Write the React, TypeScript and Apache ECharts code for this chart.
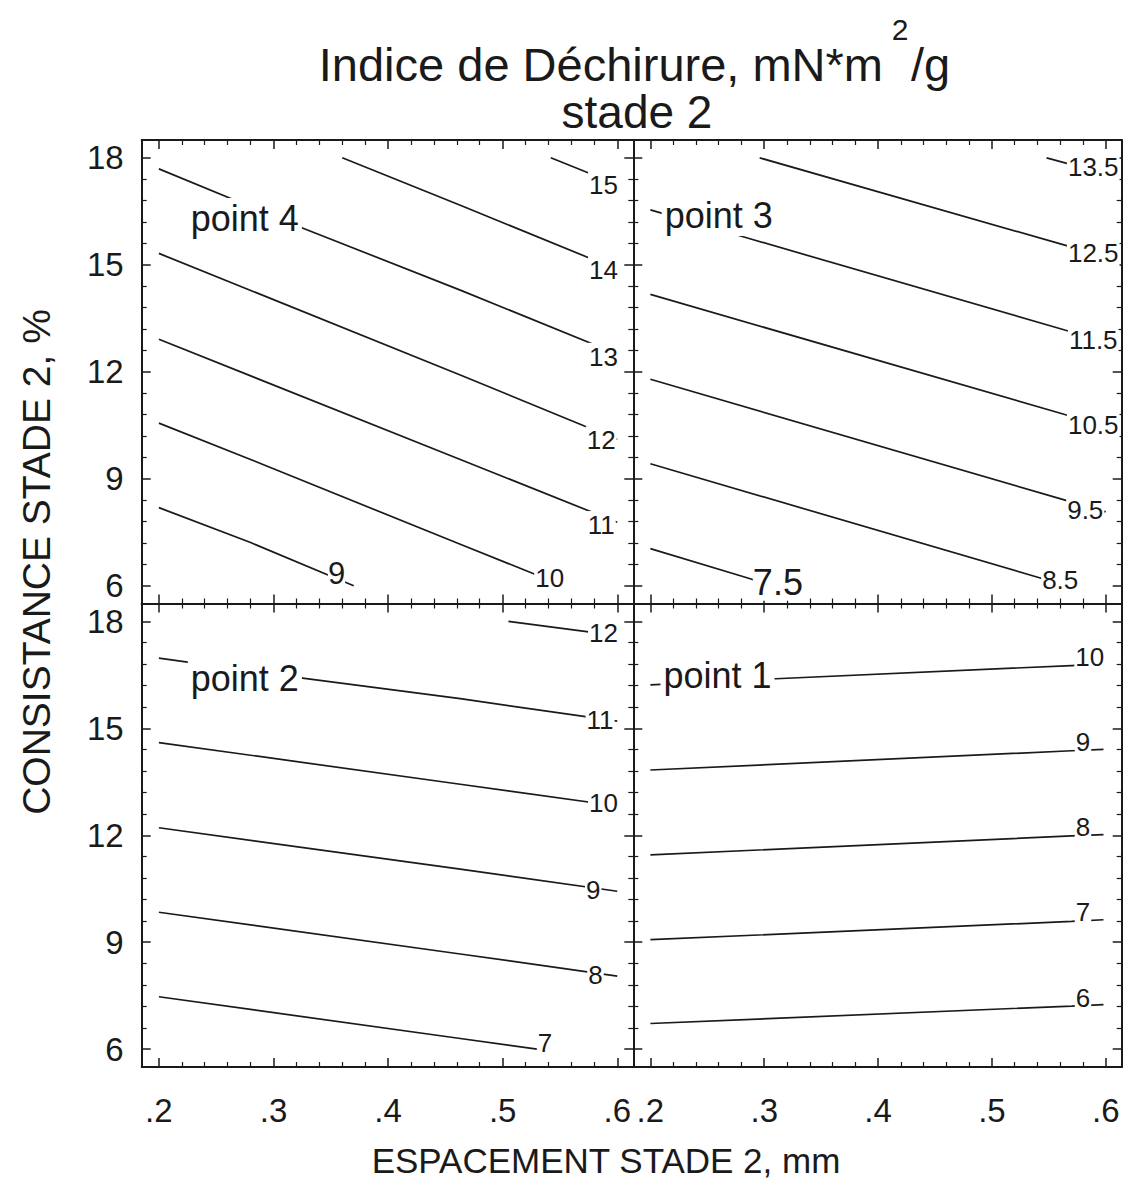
import React, { useEffect, useRef } from 'react';
import * as echarts from 'echarts';

const FONT = '"Liberation Sans", Arial, Helvetica, sans-serif';
const INK = '#1a1a1a';

// ---- axes ----
const X_RANGE = [0.185, 0.614];
const Y_RANGE = [5.5, 18.5];
const xTickValues = [0.2, 0.3, 0.4, 0.5, 0.6];
const xTickLabels = ['.2', '.3', '.4', '.5', '.6'];
const yTickValues = [6, 9, 12, 15, 18];
const yTickLabels = ['6', '9', '12', '15', '18'];
const xMinorTicks = [0.22, 0.24, 0.26, 0.28, 0.32, 0.34, 0.36, 0.38, 0.42, 0.44, 0.46, 0.48, 0.52, 0.54, 0.56, 0.58];
const yMinorTicks = [6.6, 7.2, 7.8, 8.4, 9.6, 10.2, 10.8, 11.4, 12.6, 13.2, 13.8, 14.4, 15.6, 16.2, 16.8, 17.4];

// ---- texts ----
const titleMain = 'Indice de Déchirure, mN*m';
const titleSup = '2';
const titleTail = '/g';
const titleLine2 = 'stade 2';
const xTitle = 'ESPACEMENT STADE 2, mm';
const yTitle = 'CONSISTANCE STADE 2, %';

// ---- point 4 (top-left) ----
const p4Levels = ['9', '10', '11', '12', '13', '14', '15'];
const p4Lines = [
  [[0.2, 8.19], [0.28, 7.21], [0.37, 6.0]],
  [[0.2, 10.56], [0.28, 9.54], [0.463, 7.16], [0.553, 6.0]],
  [[0.2, 12.91], [0.463, 9.54], [0.6, 7.78]],
  [[0.2, 15.32], [0.463, 11.91], [0.6, 10.1]],
  [[0.2, 17.69], [0.323, 16.06], [0.463, 14.29], [0.6, 12.5]],
  [[0.36, 18.0], [0.463, 16.67], [0.6, 14.87]],
  [[0.542, 18.0], [0.6, 17.25]],
];
const p4LabelPos = [[0.355, 6.35], [0.541, 6.21], [0.586, 7.7], [0.586, 10.08], [0.588, 12.42], [0.588, 14.85], [0.588, 17.24]];

// ---- point 3 (top-right) ----
const p3Levels = ['7.5', '8.5', '9.5', '10.5', '11.5', '12.5', '13.5'];
const p3Lines = [
  [[0.2, 7.04], [0.287, 6.2], [0.306, 6.0]],
  [[0.2, 9.42], [0.541, 6.23], [0.565, 6.0]],
  [[0.2, 11.79], [0.562, 8.42], [0.6, 8.07]],
  [[0.2, 14.17], [0.564, 10.8], [0.6, 10.47]],
  [[0.2, 16.54], [0.28, 15.8], [0.564, 13.17], [0.6, 12.84]],
  [[0.296, 18.0], [0.564, 15.55], [0.6, 15.22]],
  [[0.548, 18.0], [0.6, 17.55]],
];
const p3LabelPos = [[0.312, 6.08], [0.56, 6.16], [0.582, 8.12], [0.589, 10.51], [0.589, 12.89], [0.589, 15.32], [0.589, 17.75]];

// ---- point 2 (bottom-left) ----
const p2Levels = ['7', '8', '9', '10', '11', '12'];
const p2Lines = [
  [[0.2, 7.47], [0.463, 6.3], [0.53, 6.0]],
  [[0.2, 9.84], [0.463, 8.67], [0.6, 8.05]],
  [[0.2, 12.21], [0.463, 11.05], [0.6, 10.43]],
  [[0.2, 14.6], [0.463, 13.43], [0.6, 12.82]],
  [[0.2, 16.97], [0.322, 16.42], [0.463, 15.83], [0.6, 15.2]],
  [[0.505, 18.0], [0.6, 17.6]],
];
const p2LabelPos = [[0.537, 6.16], [0.581, 8.08], [0.579, 10.46], [0.588, 12.9], [0.585, 15.23], [0.588, 17.66]];

// ---- point 1 (bottom-right) ----
const p1Levels = ['6', '7', '8', '9', '10'];
const p1Lines = [
  [[0.2, 6.72], [0.57, 7.21], [0.598, 7.25]],
  [[0.2, 9.07], [0.57, 9.585], [0.598, 9.63]],
  [[0.2, 11.45], [0.57, 11.98], [0.598, 12.02]],
  [[0.2, 13.83], [0.57, 14.37], [0.598, 14.41]],
  [[0.2, 16.22], [0.31, 16.39], [0.57, 16.76], [0.598, 16.8]],
];
const p1LabelPos = [[0.58, 7.43], [0.58, 9.86], [0.58, 12.22], [0.58, 14.62], [0.586, 17.01]];

const pointNames = ['point 4', 'point 3', 'point 2', 'point 1'];
const pointLabelPos = [[0.275, 16.31], [0.26, 16.37], [0.275, 16.41], [0.259, 16.47]];

const panels = [
  { levels: p4Levels, lines: p4Lines, labelPos: p4LabelPos },
  { levels: p3Levels, lines: p3Lines, labelPos: p3LabelPos },
  { levels: p2Levels, lines: p2Lines, labelPos: p2LabelPos },
  { levels: p1Levels, lines: p1Lines, labelPos: p1LabelPos },
];

// ---- layout / style ----
const GRID_RECTS = [
  { left: 141.7, top: 140, width: 491.6, height: 463.5 },
  { left: 633.3, top: 140, width: 488.4, height: 463.5 },
  { left: 141.7, top: 603.5, width: 491.6, height: 463.5 },
  { left: 633.3, top: 603.5, width: 488.4, height: 463.5 },
];
// larger contour labels, keyed "panelIndex:level"
const LABEL_SIZE_OVERRIDES: Record<string, number> = { '0:9': 31, '1:7.5': 36 };

function lookup(values: number[], labels: string[]) {
  return (v: number) => {
    const i = values.findIndex((t) => Math.abs(t - v) < 1e-6);
    return i >= 0 ? labels[i] : '';
  };
}

function buildOption() {
  const xAxis: any[] = [];
  const yAxis: any[] = [];
  const series: any[] = [];
  const xFmt = lookup(xTickValues, xTickLabels);
  const yFmt = lookup(yTickValues, yTickLabels);

  GRID_RECTS.forEach((_r, g) => {
    const bottomRow = g >= 2;
    const leftCol = g % 2 === 0;
    const xBase = { type: 'value', gridIndex: g, min: X_RANGE[0], max: X_RANGE[1], splitLine: { show: false }, silent: true };
    const yBase = { type: 'value', gridIndex: g, min: Y_RANGE[0], max: Y_RANGE[1], splitLine: { show: false }, silent: true };
    const majorX = (pos: string, labels: boolean) => ({
      ...xBase,
      position: pos,
      axisLine: { show: true, onZero: false, lineStyle: { color: INK, width: 2 } },
      axisTick: { show: true, inside: true, length: 9, customValues: xTickValues, lineStyle: { color: INK, width: 1.5 } },
      axisLabel: { show: labels, customValues: xTickValues, formatter: xFmt, margin: 27, fontSize: 33, fontFamily: FONT, color: INK },
    });
    const minorX = (pos: string) => ({
      ...xBase,
      position: pos,
      axisLine: { show: false, onZero: false },
      axisTick: { show: true, inside: true, length: 5, customValues: xMinorTicks, lineStyle: { color: INK, width: 1.2 } },
      axisLabel: { show: false },
    });
    const majorY = (pos: string, labels: boolean) => ({
      ...yBase,
      position: pos,
      axisLine: { show: true, onZero: false, lineStyle: { color: INK, width: 2 } },
      axisTick: { show: true, inside: true, length: 9, customValues: yTickValues, lineStyle: { color: INK, width: 1.5 } },
      axisLabel: { show: labels, customValues: yTickValues, formatter: yFmt, margin: 18, fontSize: 33, fontFamily: FONT, color: INK },
    });
    const minorY = (pos: string) => ({
      ...yBase,
      position: pos,
      axisLine: { show: false, onZero: false },
      axisTick: { show: true, inside: true, length: 5, customValues: yMinorTicks, lineStyle: { color: INK, width: 1.2 } },
      axisLabel: { show: false },
    });
    xAxis.push(majorX('bottom', bottomRow), minorX('bottom'), majorX('top', false), minorX('top'));
    yAxis.push(majorY('left', leftCol), minorY('left'), majorY('right', false), minorY('right'));

    const ax = g * 4;
    const panel = panels[g];
    panel.lines.forEach((pts) => {
      series.push({
        type: 'line',
        xAxisIndex: ax,
        yAxisIndex: ax,
        data: pts,
        showSymbol: false,
        symbol: 'none',
        clip: true,
        silent: true,
        z: 2,
        lineStyle: { color: INK, width: 1.7 },
      });
    });
    const labelBase = {
      show: true,
      position: 'inside',
      formatter: '{b}',
      fontFamily: FONT,
      color: INK,
      opacity: 1,
      backgroundColor: '#ffffff',
    };
    series.push({
      type: 'scatter',
      xAxisIndex: ax,
      yAxisIndex: ax,
      symbolSize: 1,
      silent: true,
      z: 5,
      itemStyle: { color: 'rgba(255,255,255,0)', opacity: 1 },
      data: panel.levels.map((lv, i) => {
        const size = LABEL_SIZE_OVERRIDES[g + ':' + lv];
        return {
          value: panel.labelPos[i],
          name: lv,
          label: size ? { fontSize: size, padding: 0 } : undefined,
        };
      }),
      label: { ...labelBase, fontSize: 26, padding: [1, 1] },
    });
    series.push({
      type: 'scatter',
      xAxisIndex: ax,
      yAxisIndex: ax,
      symbolSize: 1,
      silent: true,
      z: 6,
      itemStyle: { color: 'rgba(255,255,255,0)', opacity: 1 },
      data: [{ value: pointLabelPos[g], name: pointNames[g] }],
      label: { ...labelBase, fontSize: 36, padding: [2, 3] },
    });
  });

  const X1 = 883;
  const txt = (x: number, y: number, text: string, size: number, align: string, extra: any = {}) => ({
    type: 'text',
    x,
    y,
    silent: true,
    ...extra,
    style: {
      text,
      fontSize: size,
      fontFamily: FONT,
      fill: INK,
      align,
      verticalAlign: 'middle',
      textAlign: align,
      textVerticalAlign: 'middle',
    },
  });

  return {
    animation: false,
    backgroundColor: '#ffffff',
    grid: GRID_RECTS.map((r) => ({ ...r, containLabel: false, outerBoundsMode: 'none' })),
    xAxis,
    yAxis,
    series,
    graphic: [
      txt(X1, 64, titleMain, 47, 'right'),
      txt(X1 + 17, 29, titleSup, 30, 'center'),
      txt(X1 + 28, 64, titleTail, 47, 'left'),
      txt(637, 111.5, titleLine2, 46, 'center'),
      txt(606, 1160, xTitle, 35, 'center'),
      txt(36, 562, yTitle, 39, 'center', { rotation: Math.PI / 2 }),
    ],
  };
}

export default function App() {
  const ref = useRef<HTMLDivElement>(null);
  useEffect(() => {
    const chart = echarts.init(ref.current as HTMLDivElement, null, { renderer: 'svg' });
    chart.setOption(buildOption() as any);
    return () => chart.dispose();
  }, []);
  return (
    <div
      ref={ref}
      style={{ position: 'absolute', left: 0, top: 0, width: 1129, height: 1196, background: '#fff' }}
    />
  );
}
